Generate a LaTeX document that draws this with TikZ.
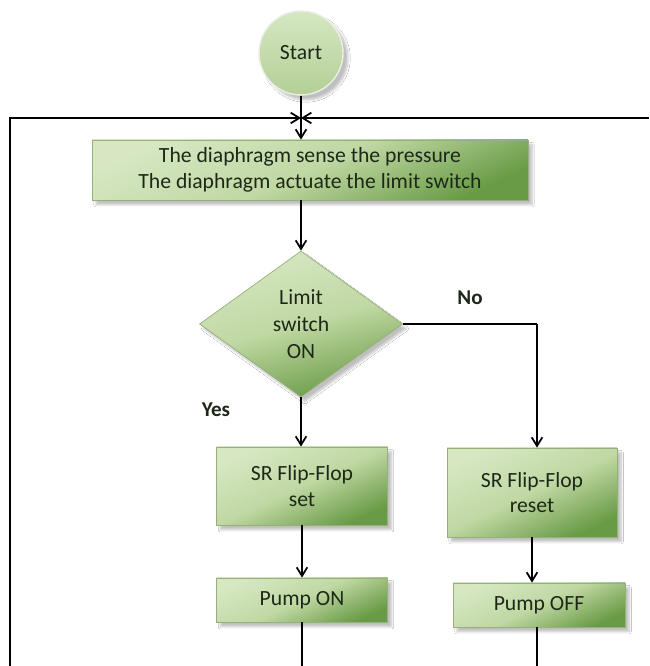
\documentclass[tikz,border=0pt]{standalone}
\usepackage{fontspec}
\setmainfont{Carlito}
\usepackage{tikz}
\usetikzlibrary{arrows.meta,shapes.geometric,shadows.blur}
\definecolor{boxtop}{RGB}{214,231,194}
\definecolor{boxmid}{RGB}{192,216,163}
\definecolor{boxbot}{RGB}{105,155,70}
\definecolor{boxrim}{RGB}{150,175,125}
\definecolor{ink}{RGB}{30,40,25}
\tikzset{
  flowbox/.style={rectangle,draw=boxrim,line width=0.6pt,top color=boxtop,bottom color=boxbot,
    middle color=boxmid,shading angle=25,inner sep=0pt,align=center,text=ink,
    blur shadow={shadow xshift=1.2mm,shadow yshift=-1.4mm,shadow opacity=25,shadow blur steps=8},
    font=\fontsize{18.5}{22}\selectfont},
  startnode/.style={circle,draw=white!80!boxrim,line width=1.2pt,top color=boxtop,bottom color=boxmid!85!boxbot,
    inner sep=0pt,minimum size=2.52cm,font=\fontsize{18.5}{22}\selectfont,text=ink,
    blur shadow={shadow xshift=1.5mm,shadow yshift=-1.5mm,shadow opacity=25,shadow blur steps=8}},
  decide/.style={diamond,draw=boxrim,line width=0.6pt,top color=boxtop,bottom color=boxbot,
    middle color=boxmid,shading angle=15,inner sep=0pt,aspect=1.39,text=ink,
    minimum width=6.09cm,minimum height=4.38cm,align=center,font=\fontsize{18.5}{23}\selectfont,
    blur shadow={shadow xshift=1.2mm,shadow yshift=-1.4mm,shadow opacity=25,shadow blur steps=8}},
  flow/.style={line width=1.6pt,-{Straight Barb[length=2.6mm,width=3.2mm,line width=1.5pt]}},
  plain/.style={line width=1.6pt},
  answer/.style={font=\fontsize{18}{20}\selectfont\bfseries,text=ink},
}

\begin{document}
\begin{tikzpicture}
  \useasboundingbox (0,0) rectangle (19.47,19.98);
  \fill[white] (0,0) rectangle (19.47,19.98);
  % shapes
  \node[startnode] (start) at (9.03,18.39) {Start};
  \node[flowbox,minimum width=13.08cm,minimum height=1.8cm] (sense) at (9.3,14.88)
    {The diaphragm sense the pressure\\The diaphragm actuate the limit switch};
  \node[decide] (limit) at (9.03,10.26) {Limit\\switch\\ON};
  \node[flowbox,minimum width=5.13cm,minimum height=2.34cm] (set) at (9.06,5.4) {SR Flip-Flop\\set};
  \node[flowbox,minimum width=5.1cm,minimum height=2.67cm] (reset) at (15.96,5.205) {SR Flip-Flop\\reset};
  \node[flowbox,minimum width=5.13cm,minimum height=1.32cm] (pumpon) at (9.06,1.98) {Pump ON};
  \node[flowbox,minimum width=5.16cm,minimum height=1.32cm] (pumpoff) at (16.17,1.83) {Pump OFF};
  \node[answer] (no) at (14.1,11.04) {No};
  \node[answer] (yes) at (6.48,7.68) {Yes};
  % loop back lines
  \coordinate (join) at (9.03,16.44);
  \coordinate (loopl) at (0.3,0);
  \coordinate (loopr) at (19.47,16.44);
  \coordinate (turn) at (16.11,10.26);
  \draw[flow] (loopl) |- (join);
  \draw[flow] (loopr) -- (join);
  % connectors
  \draw[flow] (start) -- (start |- sense.north);
  \draw[flow] (sense.south -| limit) -- (limit.north);
  \draw[flow] (limit.south) -- (limit |- set.north);
  \draw[plain] (limit.east) -- (turn);
  \draw[flow] (turn) -- (turn |- reset.north);
  \draw[flow] (set.south) -- (pumpon.north);
  \draw[flow] (reset.south) -- (reset.south |- pumpoff.north);
  \draw[plain] (pumpon.south) -- (pumpon.south |- loopl);
  \draw[plain] (turn |- pumpoff.south) -- (turn |- loopl);
\end{tikzpicture}
\end{document}
